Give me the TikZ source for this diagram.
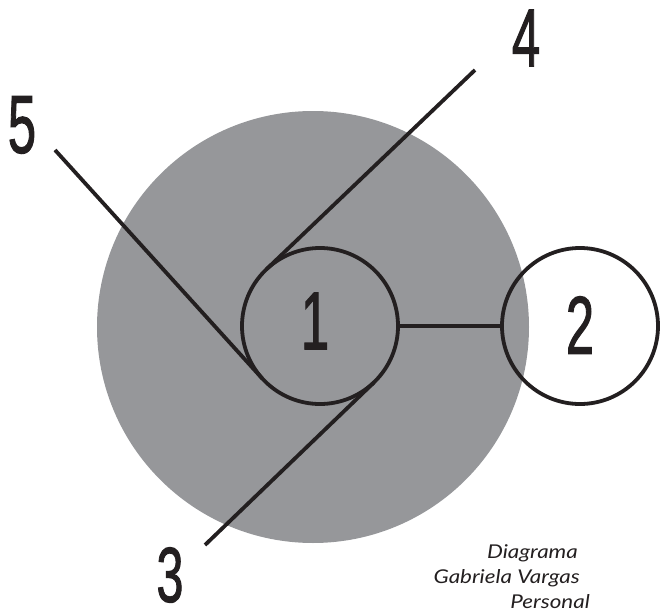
\documentclass[tikz,border=0pt]{standalone}
\usepackage{fontspec}
\setmainfont{Liberation Sans}
\newfontfamily\numfont{Liberation Sans}[FakeBold=1.6]
\newfontfamily\capfont{Lato}
\definecolor{inkc}{RGB}{35,31,32}
\definecolor{discgray}{RGB}{150,151,154}
\tikzset{
  ring/.style={circle,draw=inkc,line width=3.8pt,minimum size=156pt,inner sep=0pt,outer sep=0pt},
  spoke/.style={draw=inkc,line width=3.8pt},
  numlabel/.style={inner sep=0pt,text=inkc,font=\numfont\fontsize{82}{82}\selectfont},
  capline/.style={anchor=base east,inner sep=0pt,text=inkc,font=\capfont\itshape\fontsize{19}{19}\selectfont}
}
\newcommand{\cnum}[1]{\scalebox{0.62}[1]{#1}}
\newcommand{\cwide}[1]{\scalebox{1.18}[1]{#1}}
\begin{document}
\begin{tikzpicture}[x=1pt,y=-1pt]
\useasboundingbox (0,0) rectangle (662,613);
\fill[discgray] (313,327) circle (216);
\node[ring] (c1) at (320,326) {};
\node[ring] (c2) at (580,326) {};
\coordinate (p4) at (475,70);
\coordinate (t4) at (266.1,269.6);
\coordinate (p5) at (55,150);
\coordinate (t5) at (262.2,378.5);
\coordinate (p3) at (205,545);
\coordinate (t3) at (374.1,382.3);
\draw[spoke] (p4) -- (t4);
\draw[spoke] (p5) -- (t5);
\draw[spoke] (p3) -- (t3);
\draw[spoke] (c1.east) -- (c2.west);
\node[numlabel] (n1) at (315,321) {\cnum{1}};
\node[numlabel] (n2) at (580,325) {\cnum{2}};
\node[numlabel,font=\numfont\fontsize{78}{78}\selectfont] (n3) at (170,575) {\cnum{3}};
\node[numlabel] (n4) at (526,38) {\cnum{4}};
\node[numlabel] (n5) at (22,125) {\cnum{5}};
\node[capline] (l1) at (578,558) {\cwide{Diagrama}};
\node[capline] (l2) at (580,583) {\cwide{Gabriela Vargas}};
\node[capline] (l3) at (590,608) {\cwide{Personal}};
\end{tikzpicture}
\end{document}
